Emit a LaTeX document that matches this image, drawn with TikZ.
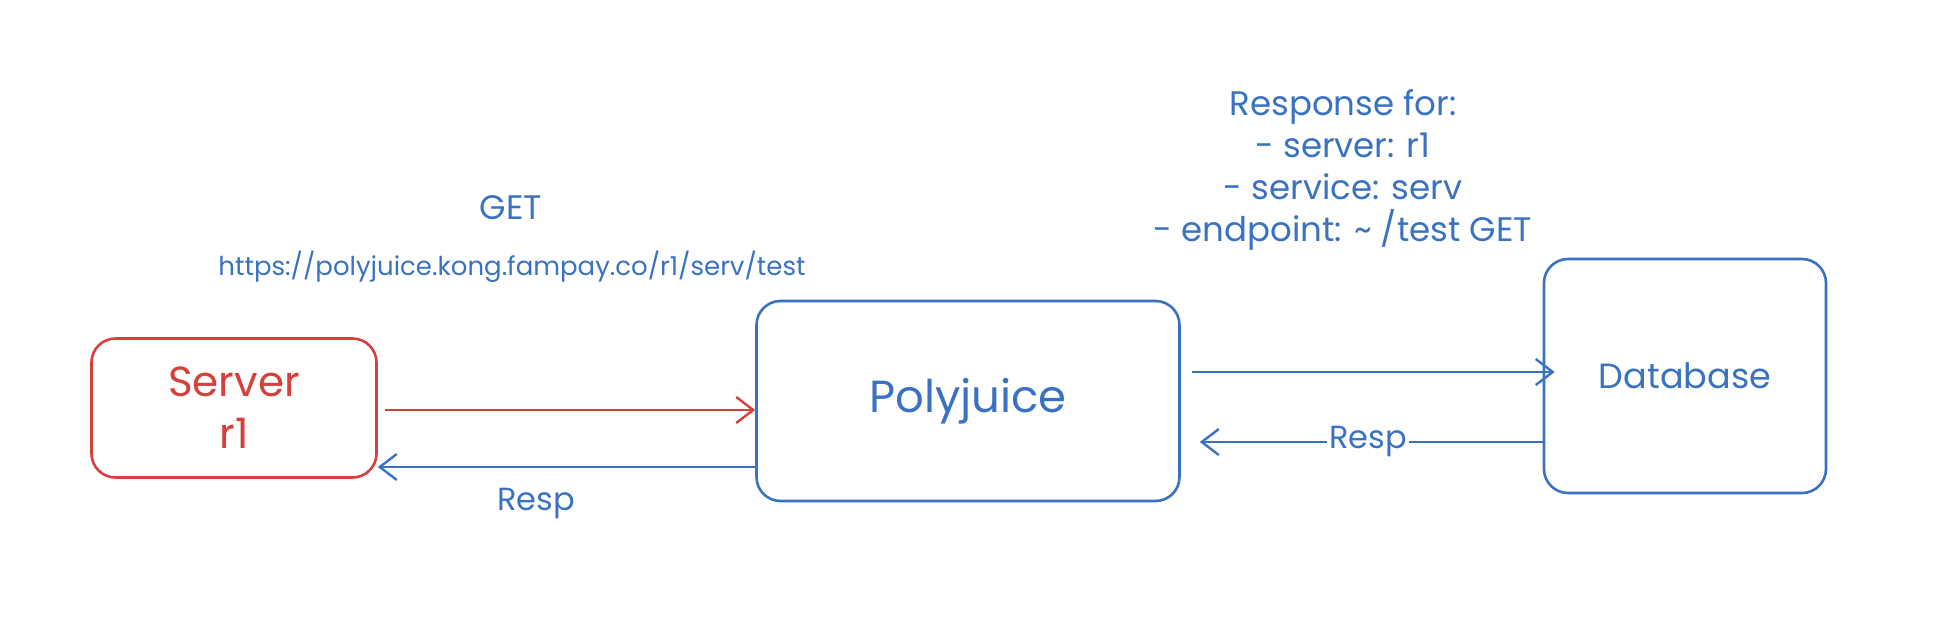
\documentclass[tikz,border=0pt]{standalone}
\usepackage{fontspec}
\setmainfont{Poppins}
\usetikzlibrary{arrows.meta}
\definecolor{exred}{HTML}{D6403A}
\definecolor{exblue}{HTML}{3A72C2}
\tikzset{
  box/.style={draw, line width=2.6pt, rounded corners=24pt, inner sep=0pt},
  conn/.style={line width=2.8pt, -{Straight Barb[length=17pt,width=26pt,line width=2.4pt]}},
  lbl/.style={text=exblue, inner sep=2pt},
}
\begin{document}
\begin{tikzpicture}[x=1pt,y=-1pt]
\useasboundingbox (0,0) rectangle (1944,616);
% boxes
\node[box, draw=exred, text=exred, minimum width=285pt, minimum height=139pt, align=center,
      font=\fontsize{42}{52}\selectfont] (srv) at (234,408) {Server\\r1};
\node[box, draw=exblue, text=exblue, minimum width=423pt, minimum height=200pt,
      font=\fontsize{45}{50}\selectfont] (poly) at (968,401) {Polyjuice};
\node[box, draw=exblue, text=exblue, minimum width=282pt, minimum height=234pt,
      font=\fontsize{35}{44}\selectfont] (db) at (1685,376) {Database};
% labels
\node[lbl, font=\fontsize{34}{40}\selectfont] (get) at (511,208) {GET};
\node[lbl, font=\fontsize{26}{30}\selectfont] (url) at (512,267) {https://polyjuice.kong.fampay.co/r1/serv/test};
\node[lbl, align=center, font=\fontsize{34}{42}\selectfont] (resp) at (1343,170)
  {Response for:\\- server: r1\\- service: serv\\- endpoint: \textasciitilde{} /test GET};
% connectors
\draw[conn, exred] ([xshift=7pt]srv.east |- 0,410) -- (poly.west |- 0,410);
\draw[conn, exblue] (poly.west |- 0,467) -- node[lbl, pos=0.58, below=18pt, font=\fontsize{32}{36}\selectfont] (r1) {Resp} (srv.east |- 0,467);
\draw[conn, exblue] ([xshift=11pt]poly.east |- 0,372) -- ([xshift=12pt]db.west |- 0,372);
\draw[conn, exblue] (db.west |- 0,442) -- node[lbl, fill=white, pos=0.51, font=\fontsize{32}{36}\selectfont] (r2) {Resp} ([xshift=19pt]poly.east |- 0,442);
\end{tikzpicture}
\end{document}
